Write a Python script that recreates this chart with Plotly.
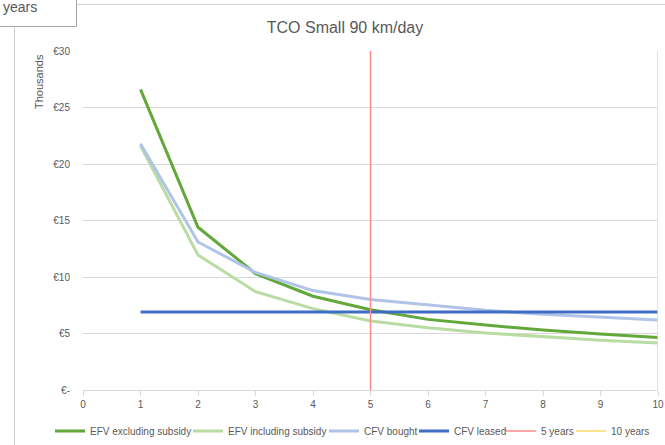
import plotly.graph_objects as go

years = [1, 2, 3, 4, 5, 6, 7, 8, 9, 10]
efv_excl = [26.6, 14.4, 10.3, 8.3, 7.1, 6.25, 5.75, 5.3, 4.95, 4.65]
efv_incl = [21.6, 11.95, 8.7, 7.2, 6.1, 5.5, 5.05, 4.7, 4.4, 4.15]
cfv_bought = [21.8, 13.1, 10.4, 8.8, 8.0, 7.5, 7.05, 6.7, 6.42, 6.2]
cfv_leased = [6.9, 6.9, 6.9, 6.9, 6.9, 6.9, 6.9, 6.9, 6.9, 6.9]
five_years_x = [5, 5]
ten_years_x = [10, 10]
vline_y = [0, 30]
y_ticks = [0, 5, 10, 15, 20, 25, 30]
y_ticktext = ["€-", "€5", "€10", "€15", "€20", "€25", "€30"]
x_ticks = [0, 1, 2, 3, 4, 5, 6, 7, 8, 9, 10]

W, H = 665, 445
ML, MR, MT, MB = 83, 7, 51, 55
PW, PH = W - ML - MR, H - MT - MB
FONT = "Liberation Sans, Arial, sans-serif"
GREY = "#595959"

def px_x(p):
    return (p - ML) / PW

def px_y(p):
    return 1 - (p - MT) / PH

fig = go.Figure()
fig.add_trace(go.Scatter(x=years, y=efv_excl, name="EFV excluding subsidy", mode="lines",
                         line=dict(color="#62A83A", width=3), legendwidth=93))
fig.add_trace(go.Scatter(x=years, y=efv_incl, name="EFV including subsidy", mode="lines",
                         line=dict(color="#B9DCA2", width=3), legendwidth=91))
fig.add_trace(go.Scatter(x=years, y=cfv_bought, name="CFV bought", mode="lines",
                         line=dict(color="#B0C4E8", width=3), legendwidth=45))
fig.add_trace(go.Scatter(x=years, y=cfv_leased, name="CFV leased", mode="lines",
                         line=dict(color="#3F6CC4", width=3), legendwidth=42))
fig.add_trace(go.Scatter(x=five_years_x, y=vline_y, name="5 years", mode="lines",
                         line=dict(color="#FF8A8C", width=1.5), legendwidth=25))
fig.add_trace(go.Scatter(x=ten_years_x, y=vline_y, name="10 years", mode="lines",
                         line=dict(color="#FFD966", width=1.5), legendwidth=40))

shapes = [
    # screenshot artifacts: outer chart border lines and overlapping box
    dict(type="line", xref="paper", yref="paper", x0=px_x(77), x1=px_x(665), y0=px_y(4.5), y1=px_y(4.5),
         line=dict(color="#D0D0D0", width=1)),
    dict(type="line", xref="paper", yref="paper", x0=px_x(14.5), x1=px_x(14.5), y0=px_y(27), y1=px_y(445),
         line=dict(color="#D0D0D0", width=1)),
    dict(type="rect", xref="paper", yref="paper", x0=px_x(-2), x1=px_x(76.5), y0=px_y(-2), y1=px_y(26.5),
         line=dict(color="#A6A6A6", width=1), fillcolor="white"),
]

annotations = [
    dict(text="years", xref="paper", yref="paper", x=px_x(1), y=px_y(7), xanchor="left",
         yanchor="middle", showarrow=False, font=dict(family=FONT, size=14, color=GREY)),
    dict(text="Thousands", xref="paper", yref="paper", x=px_x(39), y=px_y(82), textangle=-90,
         xanchor="center", yanchor="middle", showarrow=False, font=dict(family=FONT, size=11, color=GREY)),
]

fig.update_layout(
    width=W, height=H,
    margin=dict(l=ML, r=MR, t=MT, b=MB, autoexpand=False),
    paper_bgcolor="white", plot_bgcolor="white",
    font=dict(family=FONT, size=10, color=GREY),
    title=dict(text="TCO Small 90 km/day", x=345 / W, xanchor="center", y=1 - 27 / H, yanchor="middle",
               font=dict(family=FONT, size=16, color=GREY)),
    showlegend=True,
    legend=dict(orientation="h", x=px_x(50), xanchor="left", y=px_y(431), yanchor="middle",
                font=dict(family=FONT, size=10, color=GREY), itemwidth=30, tracegroupgap=0,
                bgcolor="rgba(0,0,0,0)"),
    shapes=shapes,
    annotations=annotations,
)
fig.update_xaxes(range=[0, 10], tickvals=x_ticks, showgrid=False, zeroline=False,
                 showline=True, linecolor="#D9D9D9", linewidth=1, ticks="outside", ticklen=5,
                 tickcolor="#D9D9D9", tickfont=dict(family=FONT, size=10, color=GREY), fixedrange=True)
fig.update_yaxes(range=[0, 30], tickvals=y_ticks, ticktext=y_ticktext, showgrid=True,
                 gridcolor="#D9D9D9", gridwidth=1, zeroline=False, showline=False,
                 tickfont=dict(family=FONT, size=10, color=GREY), ticklabelstandoff=12, fixedrange=True)

fig.write_html("out.html")
